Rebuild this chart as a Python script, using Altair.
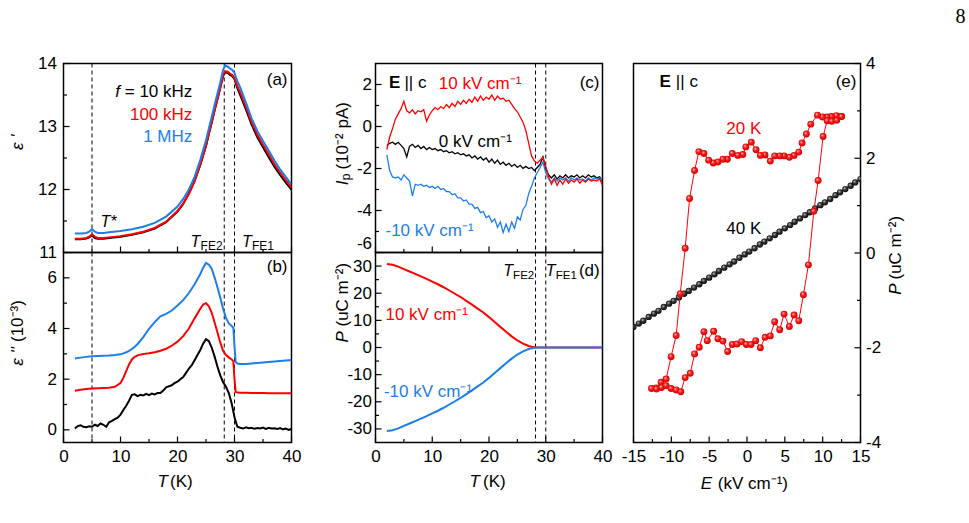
import altair as alt
import pandas as pd

FONT = "Liberation Sans"
RED = "#ff0000"
BLUE = "#1c7eea"
BLACK = "#000000"

# ---------------- data ----------------
# (a) epsilon' vs T
a_T = [2, 3, 4, 4.5, 5, 5.5, 6, 7, 8, 10, 12, 14, 16, 18, 20, 21, 22, 23, 24, 25,
       25.5, 26, 26.5, 27, 27.5, 28, 28.4, 28.8, 29.2, 29.6, 30, 30.5, 31, 32, 33, 34, 35, 36, 37, 38,
       39, 40]
a_blue = [11.30, 11.30, 11.31, 11.33, 11.37, 11.33, 11.31, 11.31, 11.32, 11.34,
          11.37, 11.41, 11.47, 11.57, 11.73, 11.85, 12.00, 12.20, 12.47, 12.78,
          12.97, 13.15, 13.34, 13.52, 13.70, 13.90, 13.97, 13.95, 13.92, 13.90,
          13.85, 13.72, 13.62, 13.38, 13.13, 12.93, 12.77, 12.62, 12.46, 12.32,
          12.20, 12.08]
a_red = [11.22, 11.22, 11.23, 11.25, 11.29, 11.25, 11.23, 11.23, 11.24, 11.26,
         11.29, 11.33, 11.39, 11.49, 11.66, 11.78, 11.93, 12.13, 12.40, 12.70,
         12.89, 13.07, 13.26, 13.44, 13.62, 13.82, 13.88, 13.87, 13.84, 13.82,
         13.77, 13.64, 13.54, 13.31, 13.07, 12.87, 12.71, 12.56, 12.40, 12.27,
         12.15, 12.03]
a_black = [11.21, 11.21, 11.22, 11.24, 11.27, 11.23, 11.22, 11.22, 11.23, 11.25,
           11.28, 11.32, 11.38, 11.48, 11.65, 11.77, 11.94, 12.14, 12.39, 12.69,
           12.88, 13.06, 13.25, 13.43, 13.61, 13.80, 13.86, 13.85, 13.82, 13.80,
           13.75, 13.61, 13.50, 13.27, 13.03, 12.83, 12.67, 12.51, 12.36, 12.23,
           12.11, 12.00]

# (b) epsilon'' vs T
b_T = [2, 3, 4, 5, 6, 7, 8, 9, 10, 10.5, 11, 11.5, 12, 12.5, 13, 14, 15, 16, 17, 18,
       19, 20, 21, 22, 23, 24, 24.5, 25, 25.5, 26, 26.5, 27, 27.5, 28, 28.5, 29, 29.5, 29.8, 30.0, 30.2,
       30.5, 31, 32, 33, 34, 35, 36, 37, 38, 39, 40]
b_blue = [2.82, 2.85, 2.88, 2.90, 2.91, 2.92, 2.93, 2.95, 2.98, 3.02,
          3.06, 3.12, 3.19, 3.28, 3.39, 3.66, 3.99, 4.25, 4.48, 4.58,
          4.71, 4.91, 5.12, 5.40, 5.75, 6.15, 6.40, 6.59, 6.52, 6.36,
          6.02, 5.64, 5.22, 4.78, 4.42, 4.20, 4.10, 4.02, 3.30, 2.68,
          2.62, 2.60, 2.60, 2.62, 2.64, 2.66, 2.68, 2.70, 2.72, 2.74,
          2.76]
b_red = [1.54, 1.58, 1.61, 1.63, 1.64, 1.65, 1.66, 1.70, 1.85, 2.05,
         2.32, 2.58, 2.78, 2.88, 2.94, 2.99, 3.02, 3.06, 3.12, 3.20,
         3.32, 3.48, 3.70, 4.00, 4.40, 4.78, 4.95, 5.00, 4.88, 4.62,
         4.25, 3.85, 3.45, 3.12, 2.95, 2.86, 2.78, 2.70, 2.00, 1.50,
         1.47, 1.46, 1.46, 1.45, 1.45, 1.45, 1.44, 1.44, 1.44, 1.44,
         1.44]
fine_T = [2.0, 2.5, 3.0, 3.5, 4.0, 4.5, 5.0, 5.5, 6.0, 6.5,
          7.0, 7.5, 8.0, 8.5, 9.0, 9.5, 10.0, 10.5, 11.0, 11.5,
          12.0, 12.5, 13.0, 13.5, 14.0, 14.5, 15.0, 15.5, 16.0, 16.5,
          17.0, 17.5, 18.0, 18.5, 19.0, 19.5, 20.0, 20.5, 21.0, 21.5,
          22.0, 22.5, 23.0, 23.5, 24.0, 24.5, 25.0, 25.5, 26.0, 26.5,
          27.0, 27.5, 28.0, 28.5, 29.0, 29.5, 30.0, 30.5, 31.0, 31.5,
          32.0, 32.5, 33.0, 33.5, 34.0, 34.5, 35.0, 35.5, 36.0, 36.5,
          37.0, 37.5, 38.0, 38.5, 39.0, 39.5, 40.0]
b_black = [0.05, 0.15, 0.18, 0.12, 0.10, 0.14, 0.12, 0.20, 0.15, 0.25,
           0.20, 0.12, 0.30, 0.35, 0.42, 0.48, 0.60, 0.78, 0.95, 1.15,
           1.38, 1.40, 1.33, 1.38, 1.36, 1.42, 1.37, 1.43, 1.40, 1.45,
           1.45, 1.55, 1.68, 1.72, 1.76, 1.85, 1.90, 2.00, 2.08, 2.25,
           2.42, 2.55, 2.75, 2.95, 3.15, 3.40, 3.58, 3.50, 3.25, 2.90,
           2.50, 2.15, 1.88, 1.70, 1.45, 1.05, 0.50, 0.12, 0.08, 0.05,
           0.10, 0.06, 0.08, 0.04, 0.07, 0.05, 0.09, 0.04, 0.08, 0.05,
           0.06, 0.03, 0.07, 0.02, 0.05, 0.00, 0.03]

# (c) pyroelectric current vs T (same T grid as fine_T)
c_red = [-1.10, -0.50, -0.10, 0.35, 0.60, 0.85, 1.20, 0.75, 0.65, 0.80,
         0.60, 0.75, 0.70, 0.80, 0.25, 0.55, 0.75, 0.90, 0.80, 0.95,
         0.85, 1.05, 0.90, 1.10, 0.95, 1.20, 1.05, 1.25, 1.10, 1.30,
         1.15, 1.40, 1.20, 1.45, 1.25, 1.40, 1.30, 1.50, 1.25, 1.45,
         1.30, 1.35, 1.20, 1.25, 1.05, 0.85, 0.70, 0.45, 0.20, -0.20,
         -0.80, -1.40, -1.65, -1.75, -1.60, -1.45, -1.90, -2.40, -2.75, -2.50,
         -2.80, -2.55, -2.75, -2.50, -2.70, -2.55, -2.65, -2.50, -2.70, -2.55,
         -2.65, -2.50, -2.60, -2.55, -2.60, -2.50, -2.80]
c_black = [-0.90, -0.80, -0.75, -0.85, -0.75, -0.90, -1.05, -1.45, -0.95, -0.85,
           -1.00, -0.90, -1.05, -0.95, -1.10, -1.00, -1.10, -1.05, -1.15, -1.10,
           -1.20, -1.15, -1.25, -1.20, -1.30, -1.25, -1.35, -1.30, -1.40, -1.35,
           -1.50, -1.40, -1.55, -1.45, -1.60, -1.50, -1.70, -1.55, -1.75, -1.60,
           -1.80, -1.70, -1.85, -1.75, -1.90, -1.80, -1.95, -1.85, -2.00, -1.90,
           -2.00, -1.95, -2.10, -1.95, -1.80, -1.45, -2.00, -2.30, -2.45, -2.30,
           -2.50, -2.35, -2.45, -2.30, -2.45, -2.35, -2.40, -2.30, -2.45, -2.35,
           -2.45, -2.30, -2.40, -2.35, -2.45, -2.40, -2.60]
c_blue = [-1.35, -2.10, -2.40, -2.45, -2.40, -2.55, -2.30, -2.45, -2.60, -3.30,
          -2.75, -2.80, -2.75, -2.85, -2.80, -2.90, -2.85, -2.95, -2.85, -3.00,
          -2.95, -3.10, -3.10, -3.25, -3.20, -3.40, -3.40, -3.55, -3.50, -3.70,
          -3.70, -3.90, -3.85, -4.10, -4.05, -4.35, -4.25, -4.55, -4.40, -4.80,
          -4.55, -5.05, -4.65, -5.00, -4.55, -4.85, -4.30, -4.45, -3.95, -3.75,
          -3.20, -2.85, -2.45, -2.20, -1.95, -1.70, -2.20, -2.50, -2.65, -2.45,
          -2.60, -2.45, -2.55, -2.45, -2.60, -2.45, -2.55, -2.45, -2.55, -2.50,
          -2.60, -2.45, -2.55, -2.45, -2.50, -2.45, -2.55]

# (d) polarization vs T
d_T = [2, 3, 4, 5, 6, 7, 8, 9, 10, 11, 12, 13, 14, 15, 16, 17, 18, 19, 20, 21,
       22, 23, 24, 25, 26, 27, 27.5, 28, 28.5, 29, 30, 32, 34, 36, 38, 40]
d_red = [30.8, 30.5, 29.8, 28.9, 28.0, 27.1, 26.2, 25.3, 24.3, 23.3, 22.2, 21.0, 19.8, 18.6, 17.2, 15.8,
         14.3, 12.9, 11.2, 9.4, 7.6, 5.8, 4.1, 2.6, 1.4, 0.55, 0.25, 0.08, 0.0, 0.0, 0.0, 0.0, 0.0, 0.0, 0.0, 0.0]
d_blue = [-30.8, -30.5, -29.8, -28.9, -28.0, -27.1, -26.2, -25.3, -24.3, -23.3, -22.2, -21.0, -19.8, -18.6,
          -17.2, -15.8, -14.3, -12.9, -11.2, -9.4, -7.6, -5.8, -4.1, -2.6, -1.4, -0.55, -0.25, -0.08, 0.0, 0.0,
          0.0, 0.0, 0.0, 0.0, 0.0, 0.0]

# (e) P-E loops
e40_E = [-15.0, -14.3, -13.7, -13.0, -12.3, -11.7, -11.0, -10.3, -9.7, -9.0, -8.3, -7.7, -7.0, -6.3, -5.7,
         -5.0, -4.3, -3.7, -3.0, -2.3, -1.7, -1.0, -0.3, 0.3, 1.0, 1.7, 2.3, 3.0, 3.7, 4.3, 5.0, 5.7, 6.3,
         7.0, 7.7, 8.3, 9.0, 9.7, 10.3, 11.0, 11.7, 12.3, 13.0, 13.7, 14.3, 15.0]
e40_P = [-1.56, -1.49, -1.43, -1.35, -1.28, -1.22, -1.14, -1.07, -1.01, -0.94, -0.86, -0.80, -0.73, -0.66,
         -0.59, -0.52, -0.45, -0.38, -0.31, -0.24, -0.18, -0.10, -0.03, 0.03, 0.10, 0.18, 0.24, 0.31, 0.38,
         0.45, 0.52, 0.59, 0.66, 0.73, 0.80, 0.86, 0.94, 1.01, 1.07, 1.14, 1.22, 1.28, 1.35, 1.42, 1.49, 1.56]
e20_E = [12.49, 11.82, 11.16, 10.59, 9.97, 9.31, 8.43, 7.85, 7.28, 6.84, 6.22, 5.60, 4.90, 4.32, 3.66,
         3.08, 2.38, 1.77, 1.20, 0.57, -0.15, -0.55, -1.20, -1.94, -2.60, -3.18, -3.84, -4.46, -5.07,
         -5.69, -6.36, -6.93, -7.59, -8.17, -8.82, -9.36, -10.03, -10.69, -11.35, -12.00, -12.62, -11.95,
         -11.30, -10.69, -10.03, -9.36, -8.75, -8.17, -7.50, -6.93, -6.31, -5.69, -5.25, -4.41, -3.84,
         -3.18, -2.56, -1.94, -1.32, -0.70, -0.09, 0.53, 1.15, 1.77, 2.38, 3.08, 3.66, 4.32, 4.90, 5.60,
         6.22, 6.84, 7.46, 8.12, 8.83, 9.40, 10.06, 10.59, 11.20, 11.86, 12.49]
e20_P = [2.88, 2.90, 2.88, 2.87, 2.87, 2.91, 2.72, 2.51, 2.32, 2.13, 2.06, 2.02, 2.05, 2.05, 2.05,
         1.94, 2.07, 2.06, 2.18, 2.34, 2.24, 2.08, 2.06, 2.10, 1.98, 1.98, 1.92, 1.90, 1.96,
         2.10, 2.14, 1.74, 1.15, 0.10, -0.86, -1.74, -2.19, -2.66, -2.73, -2.85, -2.86, -2.87,
         -2.84, -2.80, -2.86, -2.89, -2.93, -2.63, -2.54, -2.13, -1.99, -1.66, -1.85, -1.65, -1.81,
         -1.86, -2.08, -1.93, -1.92, -1.87, -1.93, -1.93, -1.85, -2.00, -1.78, -1.75, -1.45, -1.62, -1.29, -1.55,
         -1.31, -1.43, -0.88, -0.25, 0.88, 1.53, 2.46, 2.79, 2.78, 2.80, 2.88]

# transition temperatures (dashed lines)
lines_ab = [5.0, 28.2, 30.0]
lines_cd = [28.2, 30.0]

# tick values
T_major = [0, 10, 20, 30, 40]
T_minor = [5, 15, 25, 35]


# ---------------- helpers ----------------
def encodings(xdom, ydom, xvals, yvals, xlabels, ylabels, ypad, yorient="left", yflush=False):
    X = alt.X("x:Q", scale=alt.Scale(domain=xdom, nice=False, zero=False),
              axis=alt.Axis(values=xvals, labels=xlabels, ticks=False, tickSize=0, domain=False,
                            grid=False, title=None, labelFont=FONT, labelFontSize=17,
                            labelColor="black", labelPadding=6, labelFlush=False,
                            labelOverlap=False, labelExpr="toString(datum.value)"))
    Y = alt.Y("y:Q", scale=alt.Scale(domain=ydom, nice=False, zero=False),
              axis=alt.Axis(orient=yorient, values=yvals, labels=ylabels, ticks=False, tickSize=0,
                            domain=False, grid=False, title=None, labelFont=FONT,
                            labelFontSize=17, labelColor="black", labelPadding=ypad,
                            labelFlush=yflush, labelOverlap=False,
                            labelExpr="toString(datum.value)"))
    return X, Y


def tick_layers(X, Y, w, h, xmaj, xmin, ymaj, ymin, yside="left"):
    out = []
    for vals, L in ((xmaj, 6), (xmin, 3.5)):
        out.append(alt.Chart(pd.DataFrame({"x": vals})).mark_rule(color="black", strokeWidth=1.2)
                   .encode(x=X, y=alt.value(h), y2=alt.value(h - L)))
    for vals, L in ((ymaj, 6), (ymin, 3.5)):
        x0, x1 = (0, L) if yside == "left" else (w, w - L)
        out.append(alt.Chart(pd.DataFrame({"y": vals})).mark_rule(color="black", strokeWidth=1.2)
                   .encode(y=Y, x=alt.value(x0), x2=alt.value(x1)))
    return out


def line(X, Y, xs, ys, color, width=2.0):
    return (alt.Chart(pd.DataFrame({"x": xs, "y": ys}))
            .mark_line(color=color, strokeWidth=width, clip=True)
            .encode(x=X, y=Y))


def vlines(X, vals):
    return (alt.Chart(pd.DataFrame({"x": vals}))
            .mark_rule(color="black", strokeWidth=1, strokeDash=[4, 3])
            .encode(x=X))


def note(X, Y, x, y, s, **kw):
    style = dict(font=FONT, fontSize=17, color="black", align="left", baseline="alphabetic")
    style.update(kw)
    return alt.Chart(pd.DataFrame({"x": [x], "y": [y]})).mark_text(text=s, **style).encode(x=X, y=Y)


def label_px(px, py, s, **kw):
    style = dict(font=FONT, fontSize=17, color="black", align="left", baseline="alphabetic")
    style.update(kw)
    return (alt.Chart(pd.DataFrame({"k": [0]})).mark_text(text=s, **style)
            .encode(x=alt.value(px), y=alt.value(py)))


def spacer(xl, xr, ytop):
    # invisible rule that fixes the layout extent of a column
    return (alt.Chart(pd.DataFrame({"k": [0]}))
            .mark_rule(color="white", opacity=0, strokeWidth=1)
            .encode(x=alt.value(xl), x2=alt.value(xr), y=alt.value(ytop)))


GAP = 2          # concat spacing
TOP = -62        # common top extent of the three columns

# ---------------- panel (a) ----------------
wL, hA, hB = 228, 189, 190
X, Y = encodings([0, 40], [11, 14], T_major, [11, 12, 13, 14], False, True, 7)
pa = alt.layer(
    spacer(-58, wL + 12, TOP),
    vlines(X, lines_ab),
    line(X, Y, a_T, a_black, BLACK), line(X, Y, a_T, a_red, RED), line(X, Y, a_T, a_blue, BLUE),
    *tick_layers(X, Y, wL, hA, T_major, T_minor, [11, 12, 13, 14], [11.5, 12.5, 13.5]),
    note(X, Y, 39.3, 13.66, "(a)", align="right"),
    note(X, Y, 9.9, 13.47, "f", align="right", fontStyle="italic"),
    note(X, Y, 22.6, 13.47, "= 10 kHz", align="right"),
    note(X, Y, 22.6, 13.11, "100 kHz", align="right", color=RED),
    note(X, Y, 22.6, 12.76, "1 MHz", align="right", color=BLUE),
    note(X, Y, 6.5, 11.40, "T*", fontStyle="italic", fontSize=16),
    note(X, Y, 22.3, 11.085, "T", fontStyle="italic", fontSize=16),
    note(X, Y, 24.05, 11.043, "FE2", fontSize=12),
    note(X, Y, 31.3, 11.085, "T", fontStyle="italic", fontSize=16),
    note(X, Y, 33.05, 11.043, "FE1", fontSize=12),
    label_px(-45.5, 78.7, "ε '", angle=270, align="center", baseline="middle", fontStyle="italic"),
).properties(width=wL, height=hA)

# ---------------- panel (b) ----------------
X, Y = encodings([0, 40], [-0.5, 7], T_major, [0, 2, 4, 6], True, True, 7)
pb = alt.layer(
    vlines(X, lines_ab),
    line(X, Y, fine_T, b_black, BLACK), line(X, Y, b_T, b_red, RED), line(X, Y, b_T, b_blue, BLUE),
    *tick_layers(X, Y, wL, hB, T_major, T_minor, [0, 2, 4, 6], [1, 3, 5]),
    note(X, Y, 39.3, 6.22, "(b)", align="right"),
    label_px(-46, 94.5, "ε ''", angle=270, align="right", baseline="middle", fontStyle="italic"),
    label_px(-46, 89.5, "(10⁻³)", angle=270, align="left", baseline="middle"),
    label_px(104.5, hB + 44, "T", align="right", fontStyle="italic"),
    label_px(106.5, hB + 44, "(K)", align="left"),
).properties(width=wL, height=hB)

# ---------------- panel (c) ----------------
wM = 227
X, Y = encodings([0, 40], [-6, 3], T_major, [-6, -4, -2, 0, 2], False, True, 4, yflush=True)
pc = alt.layer(
    spacer(-(82.3 - 12.5 - GAP - 0.5), wM + 12, TOP),
    vlines(X, lines_cd),
    line(X, Y, fine_T, c_black, BLACK, 1.3), line(X, Y, fine_T, c_blue, BLUE, 1.3),
    line(X, Y, fine_T, c_red, RED, 1.3),
    *tick_layers(X, Y, wM, hA, T_major, T_minor, [-6, -4, -2, 0, 2], [-5, -3, -1, 1]),
    note(X, Y, 2.36, 1.81, "E", fontWeight="bold"),
    note(X, Y, 5.1, 1.81, "|| c"),
    note(X, Y, 11.15, 1.77, "10 kV cm⁻¹", color=RED),
    note(X, Y, 11.15, -0.97, "0 kV cm⁻¹"),
    note(X, Y, 1.76, -5.21, "-10 kV cm⁻¹", color=BLUE),
    note(X, Y, 39.47, 1.83, "(c)", align="right"),
    label_px(-33, 117, "I", angle=270, align="right", baseline="middle", fontStyle="italic"),
    label_px(-30, 110, "p", angle=270, align="right", baseline="middle", fontSize=12),
    label_px(-33, 106, "(10⁻² pA)", angle=270, align="left", baseline="middle"),
).properties(width=wM, height=hA)

# ---------------- panel (d) ----------------
X, Y = encodings([0, 40], [-35, 35], T_major, [-30, -20, -10, 0, 10, 20, 30], True, True, 4)
pd_ = alt.layer(
    vlines(X, lines_cd),
    line(X, Y, d_T, d_red, RED), line(X, Y, d_T, d_blue, BLUE),
    *tick_layers(X, Y, wM, hB, T_major, T_minor, [-30, -20, -10, 0, 10, 20, 30],
                 [-25, -15, -5, 5, 15, 25]),
    note(X, Y, 22.5, 26.3, "T", fontStyle="italic", fontSize=16),
    note(X, Y, 24.25, 25.35, "FE2", fontSize=11.5),
    note(X, Y, 30.0, 26.3, "T", fontStyle="italic", fontSize=16),
    note(X, Y, 31.75, 25.35, "FE1", fontSize=11.5),
    note(X, Y, 39.5, 26.3, "(d)", align="right"),
    note(X, Y, 1.76, 10.07, "10 kV cm⁻¹", color=RED),
    note(X, Y, 1.48, -18.4, "-10 kV cm⁻¹", color=BLUE),
    label_px(-33, 78.7, "P", angle=270, align="right", baseline="middle", fontStyle="italic"),
    label_px(-33, 74, "(uC m⁻²)", angle=270, align="left", baseline="middle"),
    label_px(104.5, hB + 44, "T", align="right", fontStyle="italic"),
    label_px(107.5, hB + 44, "(K)", align="left"),
).properties(width=wM, height=hB)

# ---------------- panel (e) ----------------
wE, hE = 227, 379
E_major = [-15, -10, -5, 0, 5, 10, 15]
E_minor = [-12.5, -7.5, -2.5, 2.5, 7.5, 12.5]
P_major = [-4, -2, 0, 2, 4]
P_minor = [-3, -1, 1, 3]
X, Y = encodings([-15, 15], [-4, 4], E_major, P_major, True, True, 5, yorient="right")

red_ball = alt.RadialGradient(
    gradient="radial", x1=0.35, y1=0.32, r1=0.0, x2=0.5, y2=0.5, r2=0.55,
    stops=[alt.GradientStop(color="#ffd6d6", offset=0.0),
           alt.GradientStop(color="#ff1a1a", offset=0.45),
           alt.GradientStop(color="#c40000", offset=1.0)])
black_ball = alt.RadialGradient(
    gradient="radial", x1=0.35, y1=0.32, r1=0.0, x2=0.5, y2=0.5, r2=0.55,
    stops=[alt.GradientStop(color="#d8d8d8", offset=0.0),
           alt.GradientStop(color="#3a3a3a", offset=0.45),
           alt.GradientStop(color="#000000", offset=1.0)])

df40 = pd.DataFrame({"x": e40_E, "y": e40_P})
df20 = pd.DataFrame({"x": e20_E, "y": e20_P, "i": list(range(len(e20_E)))})
pe = alt.layer(
    spacer(-(29.9 - 12.5 - GAP - 0.5), wE + 40, TOP),
    alt.Chart(df40).mark_circle(size=40, fill=black_ball, opacity=1, clip=True).encode(x=X, y=Y),
    alt.Chart(df20).mark_line(color=RED, strokeWidth=1, clip=True)
    .encode(x=X, y=Y, order=alt.Order("i:Q")),
    alt.Chart(df20).mark_circle(size=48, fill=red_ball, opacity=1, clip=True).encode(x=X, y=Y),
    *tick_layers(X, Y, wE, hE, E_major, E_minor, P_major, P_minor, yside="right"),
    note(X, Y, -11.56, 3.505, "E", fontWeight="bold"),
    note(X, Y, -9.4, 3.505, "|| c"),
    note(X, Y, 14.47, 3.5, "(e)", align="right"),
    note(X, Y, -2.74, 2.505, "20 K", color=RED),
    note(X, Y, -2.74, 0.406, "40 K"),
    label_px(78.6, hE + 46, "E", align="right", fontStyle="italic"),
    label_px(84.3, hE + 46, "(kV cm⁻¹)", align="left"),
    label_px(262, 220, "P", angle=270, align="right", baseline="middle", fontStyle="italic"),
    label_px(262, 216, "(uC m⁻²)", angle=270, align="left", baseline="middle"),
    label_px(322, -41, "8", font="Liberation Serif", fontSize=20),
).properties(width=wE, height=hE)

col1 = alt.vconcat(pa, pb, spacing=0, bounds="flush")
col2 = alt.vconcat(pc, pd_, spacing=0, bounds="flush")
chart = (alt.hconcat(col1, col2, pe, spacing=GAP)
         .properties(padding={"left": 4.5, "top": 0.5, "right": 0, "bottom": 0}, background="white")
         .configure_view(stroke="black", strokeWidth=1.5))

chart.save("out.html", embed_options={"renderer": "svg", "actions": False})
